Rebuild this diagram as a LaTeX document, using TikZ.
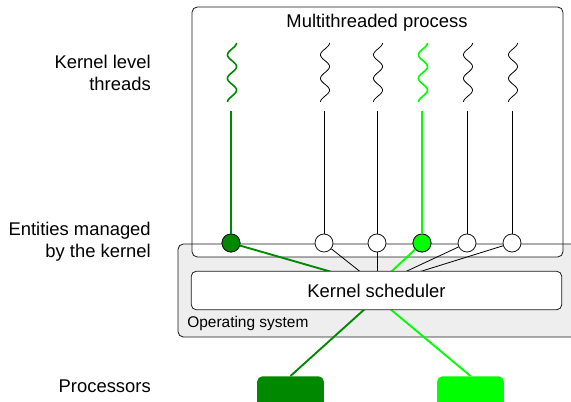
\documentclass[tikz,border=0pt]{standalone}
\usepackage{fontspec}
\setmainfont{Liberation Sans}
\usetikzlibrary{positioning}
\definecolor{darkgrn}{RGB}{0,136,0}
\definecolor{litegrn}{RGB}{0,255,0}
\definecolor{osgray}{RGB}{238,238,238}

\begin{document}
\begin{tikzpicture}[x=0.75pt,y=-0.75pt,
    font=\fontsize{13.8}{16.5}\selectfont,
    box/.style={draw=black!90,rounded corners=4pt,line width=0.6pt},
    entity/.style={circle,draw=black!90,line width=0.6pt,minimum size=13.5pt,inner sep=0pt},
    cpu/.style={rounded corners=4pt,minimum width=50pt,minimum height=26pt,inner sep=0pt,anchor=north},
    sidelabel/.style={align=right,anchor=east,inner sep=0pt},
    link/.style={line width=0.6pt}]
  \clip (0,0) rectangle (571,402);

  % containers
  \fill[osgray,rounded corners=4pt] (178,244) rectangle (620,337);
  \draw[box,fill=white] (192,7) rectangle (563,257);
  \draw[box] (178,244) rectangle (620,337);
  \node (title) at (377,23) {Multithreaded process};

  % threads and the entities they map to
  \foreach \i/\x/\c/\w in {1/231/darkgrn/1.2pt, 2/324/black/0.6pt, 3/377/black/0.6pt,
                           4/422/litegrn/1.2pt, 5/467/black/0.6pt, 6/512/black/0.6pt}{
    \draw[\c,line width=\w] plot[variable=\t,domain=0:1,samples=70]
        ({\x+1+4.5*cos(900*\t)},{43+59*\t});
    \node[entity,fill=white] (e\i) at (\x,243) {};
    \coordinate (top\i) at (\x,111);
  }
  \node[entity,fill=darkgrn] at (e1) {};
  \node[entity,fill=litegrn] at (e4) {};
  \draw[darkgrn,line width=1.2pt] (top1) -- (e1);
  \draw[litegrn,line width=1.2pt] (top4) -- (e4);
  \foreach \i in {2,3,5,6}
    \draw[link] (top\i) -- (e\i);

  \coordinate (hubup) at (377,285);
  \coordinate (hubdown) at (377,298);
  \draw[darkgrn,line width=1.4pt] (e1) -- (hubup);
  \draw[litegrn,line width=1.4pt] (e4) -- (hubup);
  \foreach \i in {2,3,5,6}
    \draw[link] (e\i) -- (hubup);

  % processors
  \node[cpu,fill=darkgrn] (cpu1) at (290.5,376) {};
  \node[cpu,fill=litegrn] (cpu2) at (470.5,376) {};
  \draw[darkgrn,line width=1.4pt] (hubdown) -- (cpu1.north);
  \draw[litegrn,line width=1.4pt] (hubdown) -- (cpu2.north);

  \node[box,fill=white,minimum width=278pt,minimum height=29pt] (sched) at (376.5,290.5) {Kernel scheduler};
  \node[anchor=west,inner sep=0pt,font=\fontsize{11.6}{14}\selectfont] (oslabel) at (187,324) {Operating system};

  % labels on the left
  \node[sidelabel] (threadlbl) at (151,73) {Kernel level\\threads};
  \node[sidelabel] (entitylbl) at (151,242) {Entities managed\\by the kernel};
  \node[sidelabel] (cpulbl) at (151,386) {Processors};
\end{tikzpicture}
\end{document}
